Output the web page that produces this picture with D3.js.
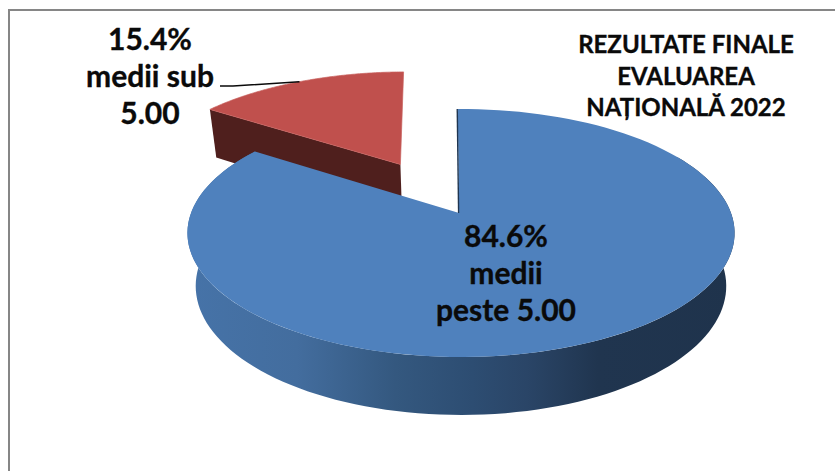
<!DOCTYPE html>
<html><head><meta charset="utf-8">
<script src="https://cdn.jsdelivr.net/npm/d3@7"></script>
<style>html,body{margin:0;padding:0;background:#fff}svg{display:block}text{font-family:Lato,"Open Sans",sans-serif;font-weight:700;fill:#0a0a0a;stroke:#0a0a0a;stroke-width:0.35;text-anchor:middle}</style>
</head><body><svg id="c" width="835" height="471"></svg>
<script>
const categories = ["medii peste 5.00", "medii sub 5.00"];
const values = [84.6, 15.4];
const labelLines = [["84.6%", "medii", "peste 5.00"], ["15.4%", "medii sub", "5.00"]];
const titleLines = ["REZULTATE FINALE", "EVALUAREA", "NAȚIONALĂ 2022"];
const topColors = ["#4f81bd", "#c0504d"];
const wallStops = [[0,"#4673a8"],[0.2,"#436d9e"],[0.38,"#34587f"],[0.52,"#2d4d72"],[0.62,"#2a4567"],[0.75,"#20354f"],[1,"#1f334c"]];

const svg = d3.select("#c");
const W = 835, H = 471;

// projection of the tilted disc onto the screen
const cx = 461, R = 270, cP = 0.1613, yA = -86.4, yB = 213;
const vp = [460, 2000], k = 0.0296;
const proj = (u, v, z = 0) => {
  const w = 1 + cP * v;
  const x = cx + R * u / w, y = (yB + yA * v) / w;
  const t = k * z / w;
  return [x + t * (vp[0] - x), y + t * (vp[1] - y)];
};
// slice offsets in disc units
const rimShift = [[0, 0], [-0.248, 0.44]];
const apexShift = [[-0.007, 0], [-0.24, 0.43]];

const pie = d3.pie().sort(null).value(d => d).startAngle(-0.014).endAngle(2 * Math.PI - 0.014);
const arcs = pie(values);
const rimPts = (i, a0, a1, z) => d3.range(0, 121).map(n => {
  const a = a0 + (a1 - a0) * n / 120;
  return proj(rimShift[i][0] + Math.sin(a), rimShift[i][1] + Math.cos(a), z);
});
const apex = (i, z) => proj(apexShift[i][0], apexShift[i][1], z);
const line = d3.line().curve(d3.curveLinear);
const closed = pts => line(pts) + "Z";

// frame
svg.append("path").attr("d", `M9,${H}V10H${W}`).attr("fill", "none").attr("stroke", "#868686").attr("stroke-width", 2);

// gradient for the outer wall of the large slice
const grad = svg.append("defs").append("linearGradient").attr("id", "wall")
  .attr("gradientUnits", "userSpaceOnUse").attr("x1", 188).attr("x2", 735).attr("y1", 0).attr("y2", 0);
wallStops.forEach(s => grad.append("stop").attr("offset", s[0]).attr("stop-color", s[1]));

// small slice: cut wall then top
const a1 = arcs[1];
const rimEnd = rimPts(1, a1.startAngle, a1.endAngle, 0);
svg.append("path").attr("d", closed([rimEnd[0], apex(1, 0), apex(1, 1),
  proj(rimShift[1][0] + Math.sin(a1.startAngle), rimShift[1][1] + Math.cos(a1.startAngle), 1)])).attr("fill", "#4f1f1d");
svg.append("path").attr("d", closed([...rimEnd, apex(1, 0)])).attr("fill", topColors[1]).attr("stroke", "#c9625f").attr("stroke-width", 0.7);

// large slice: outer wall, top, cut-face sliver
const a0 = arcs[0];
const outerTop = rimPts(0, Math.PI / 3, a0.endAngle, 0);
const outerBase = rimPts(0, Math.PI / 3, a0.endAngle, 1);
svg.append("path").attr("d", closed([...outerTop, ...outerBase.reverse()])).attr("fill", "url(#wall)");
svg.append("path").attr("d", closed([...rimPts(0, a0.startAngle, a0.endAngle, 0), apex(0, 0)])).attr("fill", topColors[0]);
svg.append("path").attr("d", line([proj(Math.sin(a0.startAngle), Math.cos(a0.startAngle), 0), apex(0, 0)]))
  .attr("stroke", "#1f3550").attr("stroke-width", 1.4).attr("fill", "none").attr("transform", "translate(-0.5,0)");

// leader line of the small slice
const mid = (a1.startAngle + a1.endAngle) / 2;
const leaderEnd = proj(rimShift[1][0] + Math.sin(mid), rimShift[1][1] + Math.cos(mid), 0);
svg.append("path").attr("d", line([[220, 86], [233, 86], leaderEnd])).attr("fill", "none").attr("stroke", "#0a0a0a").attr("stroke-width", 1.5);

// labels
const labelPos = [[506, 247], [150, 50]];
labelLines.forEach((ls, i) => ls.forEach((t, j) => svg.append("text")
  .attr("x", labelPos[i][0]).attr("y", labelPos[i][1] + j * 36.8).attr("font-size", 30).text(t)));
titleLines.forEach((t, j) => svg.append("text").attr("x", 686).attr("y", 53 + j * 31.5).attr("font-size", 24).text(t));
</script></body></html>
